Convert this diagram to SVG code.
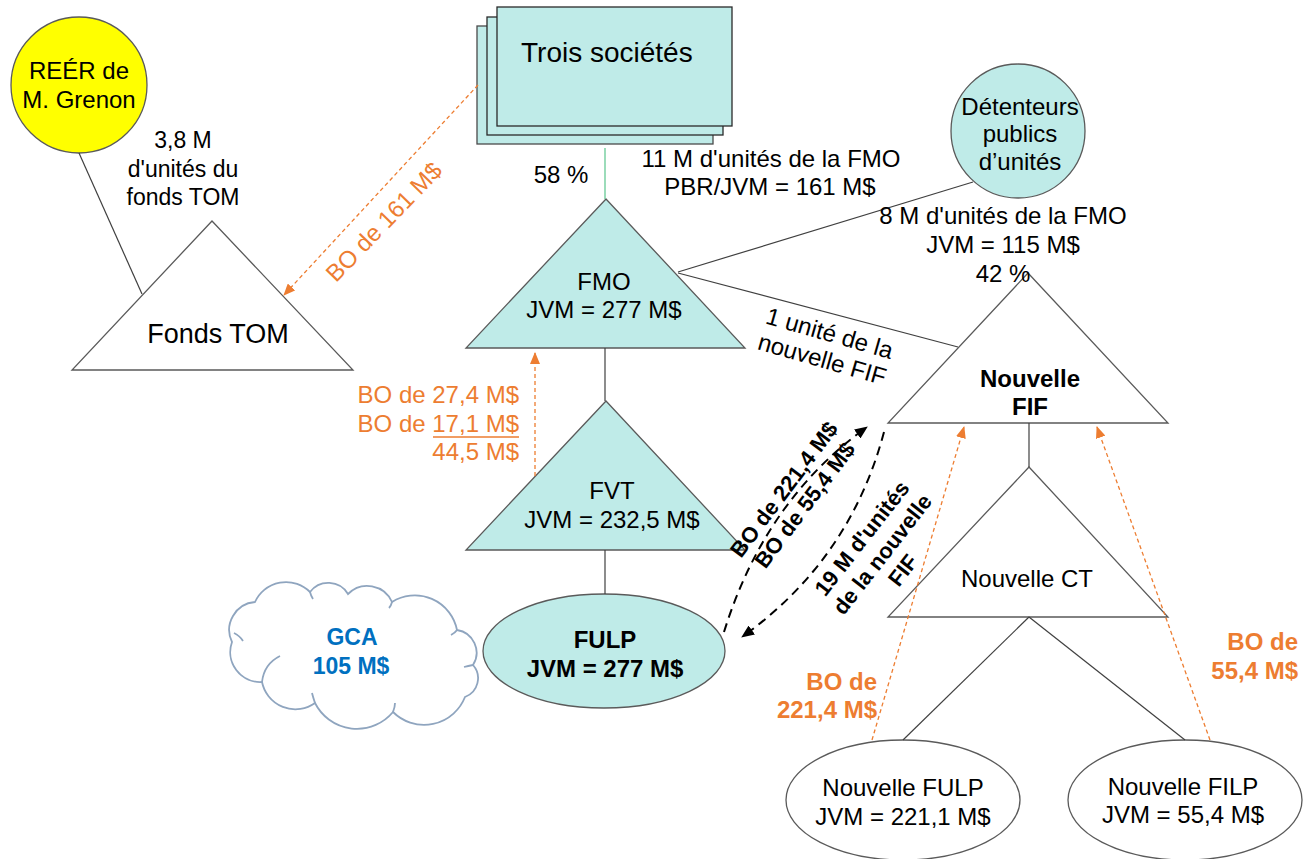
<svg xmlns="http://www.w3.org/2000/svg" width="1309" height="859" viewBox="0 0 1309 859">
  <defs>
    <style>
      .t { font-family: "Liberation Sans", Arial, sans-serif; font-size: 24px; fill: #000; }
      .s23 { font-size: 23px; }
      .s22 { font-size: 22px; }
      .b { font-weight: bold; }
      .or { fill: #ED7D31; }
      .bl { fill: #0070C0; }
      .mid { text-anchor: middle; }
      .end { text-anchor: end; }
      .teal { fill: #BFEBE8; }
      .white { fill: #FFFFFF; }
      .shape { stroke: #5A5A5A; stroke-width: 1.3; }
      .ln { stroke: #404040; stroke-width: 1.2; fill: none; }
      .green { stroke: #66C995; stroke-width: 1.3; fill: none; }
      .odash { stroke: #ED7D31; stroke-width: 1.3; stroke-dasharray: 4 3; fill: none; }
      .kdash { stroke: #000; stroke-width: 2; stroke-dasharray: 9 6; fill: none; }
      .cloud { fill: #FFFFFF; stroke: #8FA5BF; stroke-width: 1.8; }
      .cloudin { fill: none; stroke: #8FA5BF; stroke-width: 1.8; }
    </style>
    <marker id="arrO" markerUnits="userSpaceOnUse" markerWidth="12" markerHeight="10" refX="11" refY="5" orient="auto">
      <path d="M0,0 L12,5 L0,10 z" fill="#ED7D31"/>
    </marker>
    <marker id="arrK" markerUnits="userSpaceOnUse" markerWidth="13" markerHeight="11" refX="12" refY="5.5" orient="auto">
      <path d="M0,0 L13,5.5 L0,11 z" fill="#000"/>
    </marker>
  </defs>

  <rect width="1309" height="859" fill="#FFFFFF"/>

  <!-- REER circle -->
  <g id="reer">
    <circle cx="79" cy="85" r="68" fill="#FFFF00" class="shape"/>
    <text class="t mid" x="79" y="79">REÉR de</text>
    <text class="t mid" x="79" y="108">M. Grenon</text>
  </g>

  <!-- Fonds TOM -->
  <g id="fonds-tom">
    <polygon points="212,221 72,370 353,370" class="white shape"/>
    <text class="t mid" x="218" y="343" style="font-size:27px">Fonds TOM</text>
  </g>

  <!-- Three companies (stacked) -->
  <g id="trois-societes">
    <rect x="477" y="26" width="236" height="118" class="teal" stroke="#4A4A4A" stroke-width="1.3"/>
    <rect x="487" y="17" width="236" height="118" class="teal" stroke="#2A2A2A" stroke-width="1.3"/>
    <rect x="497" y="7" width="235" height="119" class="teal" stroke="#2A2A2A" stroke-width="1.3"/>
    <text class="t" x="521" y="62" style="font-size:28px">Trois sociétés</text>
  </g>

  <!-- Public unitholders -->
  <g id="detenteurs">
    <circle cx="1018" cy="131" r="67" class="teal shape"/>
    <text class="t mid" x="1020" y="115">Détenteurs</text>
    <text class="t mid" x="1020" y="142">publics</text>
    <text class="t mid" x="1020" y="170">d’unités</text>
  </g>

  <!-- FMO -->
  <g id="fmo">
    <polygon points="606,199 466,348 745,348" class="teal shape"/>
    <text class="t mid" x="604" y="290">FMO</text>
    <text class="t mid" x="604" y="318">JVM = 277 M$</text>
  </g>

  <!-- FVT -->
  <g id="fvt">
    <polygon points="606,401 466,550 745,550" class="teal shape"/>
    <text class="t mid" x="612" y="499">FVT</text>
    <text class="t mid" x="612" y="528">JVM = 232,5 M$</text>
  </g>

  <!-- FULP -->
  <g id="fulp">
    <ellipse cx="604" cy="651" rx="121" ry="57" class="teal shape"/>
    <text class="t b mid" x="605" y="648">FULP</text>
    <text class="t b mid" x="605" y="677">JVM = 277 M$</text>
  </g>

  <!-- GCA cloud -->
  <g id="gca">
    <path class="cloud" d="M232,642 A28,28 0 0 1 255,602 A34,34 0 0 1 310,592 A23,23 0 0 1 348,594 A27,27 0 0 1 392,602 A43,43 0 0 1 457,630 A23,23 0 0 1 473,665 A20,20 0 0 1 465,697 A44,44 0 0 1 393,712 A47,47 0 0 1 315,703 A34,34 0 0 1 262,682 A30,30 0 0 1 232,642 Z"/>
    <path class="cloudin" d="M234,633 Q240,636 243,641"/>
    <path class="cloudin" d="M262,682 Q264,664 280,656"/>
    <path class="cloudin" d="M310,592 Q311,596 313,599"/>
    <path class="cloudin" d="M392,602 Q391,606 389,608"/>
    <path class="cloudin" d="M457,630 Q455,633 451,635"/>
    <path class="cloudin" d="M473,665 Q468,666 464,667"/>
    <path class="cloudin" d="M393,712 Q395,707 395,703"/>
    <path class="cloudin" d="M315,703 Q313,697 312,693"/>
    <text class="t s23 b mid bl" x="352" y="645">GCA</text>
    <text class="t s23 b mid bl" x="351" y="674">105 M$</text>
  </g>

  <!-- Nouvelle FIF -->
  <g id="nouvelle-fif">
    <polygon points="1028,273 888,423 1168,423" class="white shape"/>
    <text class="t b mid" x="1030" y="387">Nouvelle</text>
    <text class="t b mid" x="1030" y="415">FIF</text>
  </g>

  <!-- Nouvelle CT -->
  <g id="nouvelle-ct">
    <polygon points="1029,467 888,617 1168,617" class="white shape"/>
    <text class="t mid" x="1027" y="587">Nouvelle CT</text>
  </g>

  <!-- Nouvelle FULP -->
  <g id="nouvelle-fulp">
    <ellipse cx="903" cy="800" rx="117" ry="60" class="white shape"/>
    <text class="t mid" x="903" y="796">Nouvelle FULP</text>
    <text class="t mid" x="903" y="825">JVM = 221,1 M$</text>
  </g>

  <!-- Nouvelle FILP -->
  <g id="nouvelle-filp">
    <ellipse cx="1185" cy="800" rx="117" ry="60" class="white shape"/>
    <text class="t mid" x="1183" y="795">Nouvelle FILP</text>
    <text class="t mid" x="1183" y="823">JVM = 55,4 M$</text>
  </g>

  <!-- Connectors -->
  <g id="connectors">
    <line class="ln" x1="79" y1="153" x2="142" y2="294"/>
    <line class="green" x1="605" y1="148" x2="605" y2="199"/>
    <line class="ln" x1="678" y1="272" x2="973" y2="182"/>
    <line class="ln" x1="678" y1="273" x2="958" y2="347"/>
    <line class="ln" x1="605" y1="348" x2="605" y2="401"/>
    <line class="ln" x1="605" y1="550" x2="605" y2="594"/>
    <line class="ln" x1="1029" y1="423" x2="1029" y2="467"/>
    <line class="ln" x1="1029" y1="617" x2="903" y2="740"/>
    <line class="ln" x1="1029" y1="617" x2="1185" y2="740"/>

    <line class="odash" x1="478" y1="85" x2="284" y2="295" marker-end="url(#arrO)"/>
    <line class="odash" x1="535" y1="476" x2="535" y2="353" marker-end="url(#arrO)"/>
    <line class="odash" x1="872" y1="740" x2="964" y2="427" marker-end="url(#arrO)"/>
    <line class="odash" x1="1210" y1="740" x2="1097" y2="427" marker-end="url(#arrO)"/>

    <path class="kdash" d="M724,632 Q765,500 867,427" marker-end="url(#arrK)"/>
    <path class="kdash" d="M884,432 Q850,560 742,637" marker-end="url(#arrK)"/>
  </g>

  <!-- Connector labels -->
  <g id="labels">
    <text class="t s23 mid" x="183" y="148">3,8 M</text>
    <text class="t s23 mid" x="183" y="177">d'unités du</text>
    <text class="t s23 mid" x="183" y="205">fonds TOM</text>

    <g transform="translate(384,222) rotate(-46)">
      <text class="t mid or" x="0" y="8">BO de 161 M$</text>
    </g>

    <text class="t mid" x="561" y="183">58 %</text>
    <text class="t mid" x="771" y="167">11 M d'unités de la FMO</text>
    <text class="t mid" x="770" y="195">PBR/JVM = 161 M$</text>

    <text class="t mid" x="1003" y="224">8 M d'unités de la FMO</text>
    <text class="t mid" x="1003" y="253">JVM = 115 M$</text>
    <text class="t mid" x="1003" y="282">42 %</text>

    <g transform="translate(826,346) rotate(16)">
      <text class="t mid" x="0" y="-5">1 unité de la</text>
      <text class="t mid" x="0" y="22">nouvelle FIF</text>
    </g>

    <text class="t end or" x="519" y="403">BO de 27,4 M$</text>
    <text class="t end or" x="519" y="432">BO de 17,1 M$</text>
    <line x1="433" y1="437" x2="519" y2="437" stroke="#ED7D31" stroke-width="1.4"/>
    <text class="t end or" x="519" y="460">44,5 M$</text>

    <g transform="translate(794,497) rotate(-53)">
      <text class="t s22 b mid" x="0" y="-5">BO de 221,4 M$</text>
      <text class="t s22 b mid" x="0" y="21">BO de 55,4 M$</text>
    </g>

    <g transform="translate(882,554) rotate(-52)">
      <text class="t s22 b mid" x="0" y="-18">19 M d'unités</text>
      <text class="t s22 b mid" x="0" y="8">de la nouvelle</text>
      <text class="t s22 b mid" x="0" y="34">FIF</text>
    </g>

    <text class="t b end or" x="877" y="690">BO de</text>
    <text class="t b end or" x="877" y="718">221,4 M$</text>
    <text class="t b end or" x="1298" y="650">BO de</text>
    <text class="t b end or" x="1298" y="679">55,4 M$</text>
  </g>
</svg>
